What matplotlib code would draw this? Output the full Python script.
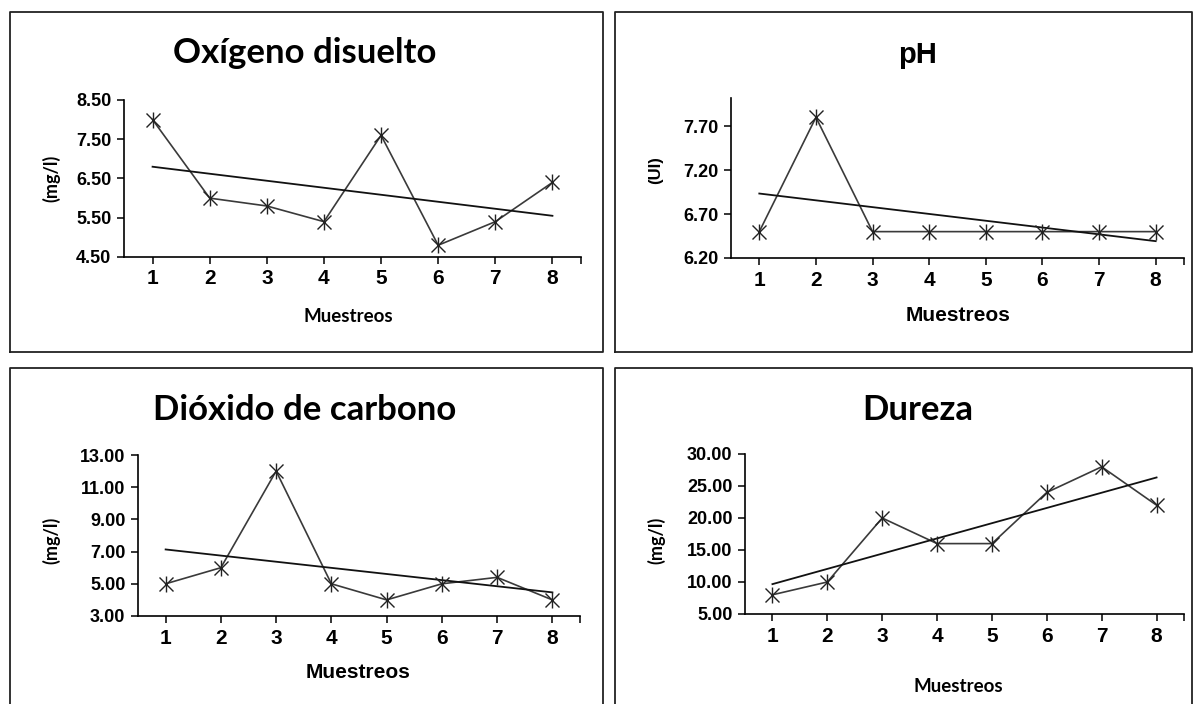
import matplotlib.pyplot as plt
import numpy as np

W, H = 1197, 704

muestreos = [1, 2, 3, 4, 5, 6, 7, 8]
oxigeno = [8.0, 6.0, 5.8, 5.4, 7.6, 4.8, 5.4, 6.4]
ph = [6.5, 7.8, 6.5, 6.5, 6.5, 6.5, 6.5, 6.5]
dioxido = [5.0, 6.0, 12.0, 5.0, 4.0, 5.0, 5.4, 4.0]
dureza = [8.0, 10.0, 20.0, 16.0, 16.0, 24.0, 28.0, 22.0]

ox_ticks = [4.5, 5.5, 6.5, 7.5, 8.5]
ph_ticks = [6.2, 6.7, 7.2, 7.7]
co2_ticks = [3, 5, 7, 9, 11, 13]
dur_ticks = [5, 10, 15, 20, 25, 30]

narrow = ['Liberation Sans Narrow', 'Liberation Sans', 'DejaVu Sans']
arial = ['Liberation Sans', 'DejaVu Sans']
calibri = ['Lato', 'DejaVu Sans']

fig = plt.figure(figsize=(W / 100, H / 100), dpi=100)


def px_axes(x0, y0, x1, y1):
    return fig.add_axes([x0 / W, 1 - y1 / H, (x1 - x0) / W, (y1 - y0) / H])


def box(x0, y0, x1, y1, bottom=True):
    xs = [x0, x0, x1, x1]
    ys = [y1, y0, y0, y1]
    if bottom:
        xs.append(x0)
        ys.append(y1)
    fig.add_artist(plt.Line2D([x / W for x in xs], [1 - y / H for y in ys],
                              color='#222222', lw=1.3, transform=fig.transFigure))


def panel(ax, y, ticks, ylim, fmt):
    x = np.array(muestreos)
    y = np.array(y)
    ax.plot(x, y, color='#3a3a3a', lw=1.2, zorder=2)
    ax.plot(x, y, ls='none', marker='x', ms=10, mew=1.0, color='#222222', zorder=3)
    ax.plot(x, y, ls='none', marker='|', ms=12, mew=1.0, color='#222222', zorder=3)
    # linear trendline
    m, b = np.polyfit(x, y, 1)
    ax.plot(x[[0, -1]], m * x[[0, -1]] + b, color='#111111', lw=1.3, zorder=2)
    ax.set_xlim(0.5, 8.5)
    ax.set_ylim(*ylim)
    ax.set_xticks(muestreos)
    ax.set_xticks([8.5], minor=True)
    ax.set_yticks(ticks)
    ax.set_yticklabels([fmt % t for t in ticks])
    for s in ['top', 'right']:
        ax.spines[s].set_visible(False)
    for s in ['left', 'bottom']:
        ax.spines[s].set_linewidth(1.2)
    ax.tick_params(which='both', direction='out', length=5, width=1.1, pad=4)
    for lab in ax.get_yticklabels():
        lab.set_family(narrow)
        lab.set_fontweight('bold')
        lab.set_fontsize(13)
    for lab in ax.get_xticklabels():
        lab.set_family(narrow)
        lab.set_fontweight('bold')
        lab.set_fontsize(15)
    ax.patch.set_alpha(0)


# panel borders
box(10, 12, 603, 352)
box(615, 12, 1192, 352)
box(10, 368, 603, 712, bottom=False)
box(615, 368, 1192, 712, bottom=False)

# Oxigeno disuelto
ax1 = px_axes(124, 100, 581, 257)
panel(ax1, oxigeno, ox_ticks, (4.5, 8.5), '%.2f')
fig.text(305 / W, 1 - 53 / H, 'Oxígeno disuelto', family=calibri, weight='bold',
         fontsize=25, ha='center', va='center')
fig.text(348 / W, 1 - 316 / H, 'Muestreos', family=calibri, weight='bold',
         fontsize=13.5, ha='center', va='center')
fig.text(51 / W, 1 - 178 / H, '(mg/l)', family=calibri, weight='bold',
         fontsize=13, ha='center', va='center', rotation=90)

# pH
ax2 = px_axes(731, 98, 1184, 258)
panel(ax2, ph, ph_ticks, (6.2, 8.02), '%.2f')
fig.text(918 / W, 1 - 55 / H, 'pH', family=arial, weight='bold',
         fontsize=21, ha='center', va='center')
fig.text(958 / W, 1 - 315 / H, 'Muestreos', family=arial, weight='bold',
         fontsize=15, ha='center', va='center')
fig.text(656 / W, 1 - 170 / H, '(UI)', family=arial, weight='bold',
         fontsize=12, ha='center', va='center', rotation=90)

# Dioxido de carbono
ax3 = px_axes(138, 455, 580, 616)
panel(ax3, dioxido, co2_ticks, (3, 13), '%.2f')
fig.text(305 / W, 1 - 410 / H, 'Dióxido de carbono', family=calibri, weight='bold',
         fontsize=25, ha='center', va='center')
fig.text(358 / W, 1 - 672 / H, 'Muestreos', family=arial, weight='bold',
         fontsize=15, ha='center', va='center')
fig.text(51 / W, 1 - 540 / H, '(mg/l)', family=calibri, weight='bold',
         fontsize=13, ha='center', va='center', rotation=90)

# Dureza
ax4 = px_axes(745, 454, 1184, 614)
panel(ax4, dureza, dur_ticks, (5, 30), '%.2f')
fig.text(918 / W, 1 - 410 / H, 'Dureza', family=calibri, weight='bold',
         fontsize=25, ha='center', va='center')
fig.text(958 / W, 1 - 686 / H, 'Muestreos', family=calibri, weight='bold',
         fontsize=13.5, ha='center', va='center')
fig.text(656 / W, 1 - 540 / H, '(mg/l)', family=calibri, weight='bold',
         fontsize=13, ha='center', va='center', rotation=90)

fig.savefig('out.png', dpi=100)
